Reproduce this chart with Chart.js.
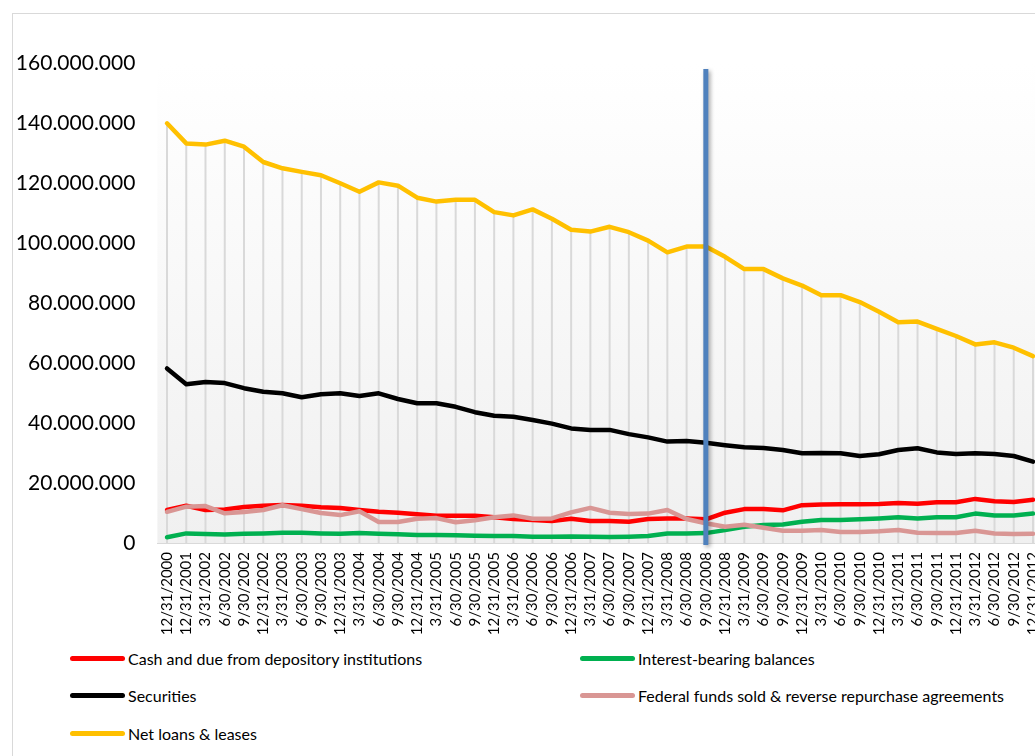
<!DOCTYPE html>
<html>
<head>
<meta charset="utf-8">
<script src="https://cdn.jsdelivr.net/npm/chart.js@4.4.1/dist/chart.umd.min.js"></script>
<style>
  html, body { margin: 0; padding: 0; background: #fff; overflow: hidden; width: 1035px; height: 756px; }
  #frame { position: absolute; left: 12px; top: 13px; width: 1100px; height: 800px; border: 1px solid #d9d9d9; box-sizing: border-box; }
  #wrap { position: absolute; left: 0; top: 0; width: 1080px; height: 645px; }
  .item { position: absolute; height: 20px; display: flex; align-items: center; font-family: Lato, sans-serif; font-size: 16px; color: #000; white-space: nowrap; }
  .swatch { width: 55px; height: 5px; border-radius: 2.5px; margin-right: 3px; }
</style>
</head>
<body>
<div id="frame"></div>
<div id="wrap"><canvas id="chart" width="1080" height="645"></canvas></div>
<div id="legend"></div>
<script>
// Quarter-end reporting dates
const quarters = [
  '12/31/2000', '12/31/2001', '3/31/2002', '6/30/2002', '9/30/2002', '12/31/2002',
  '3/31/2003', '6/30/2003', '9/30/2003', '12/31/2003', '3/31/2004', '6/30/2004',
  '9/30/2004', '12/31/2004', '3/31/2005', '6/30/2005', '9/30/2005', '12/31/2005',
  '3/31/2006', '6/30/2006', '9/30/2006', '12/31/2006', '3/31/2007', '6/30/2007',
  '9/30/2007', '12/31/2007', '3/31/2008', '6/30/2008', '9/30/2008', '12/31/2008',
  '3/31/2009', '6/30/2009', '9/30/2009', '12/31/2009', '3/31/2010', '6/30/2010',
  '9/30/2010', '12/31/2010', '3/31/2011', '6/30/2011', '9/30/2011', '12/31/2011',
  '3/31/2012', '6/30/2012', '9/30/2012', '12/31/2012'
];

// Balance sheet items (thousands of dollars)
const cashAndDue = [
  11000000, 12400000, 11000000, 11200000, 12000000, 12400000, 12700000, 12400000, 11900000, 11700000,
  11000000, 10400000, 10100000, 9600000, 9100000, 9100000, 9100000, 8600000, 8000000, 7700000,
  7300000, 8100000, 7300000, 7300000, 7100000, 8000000, 8200000, 8200000, 7900000, 10100000,
  11300000, 11300000, 10900000, 12600000, 12800000, 12900000, 12900000, 13000000, 13300000, 13100000,
  13600000, 13600000, 14700000, 13900000, 13700000, 14400000
];
const interestBearing = [
  1900000, 3200000, 3000000, 2800000, 3100000, 3200000, 3400000, 3400000, 3200000, 3100000,
  3300000, 3100000, 2900000, 2700000, 2700000, 2600000, 2400000, 2300000, 2300000, 2100000,
  2100000, 2200000, 2100000, 2000000, 2100000, 2300000, 3200000, 3200000, 3300000, 4300000,
  5400000, 6000000, 6200000, 7100000, 7700000, 7700000, 7900000, 8200000, 8600000, 8200000,
  8600000, 8600000, 9800000, 9200000, 9200000, 9800000
];
const securities = [
  58200000, 52900000, 53700000, 53300000, 51600000, 50400000, 49900000, 48600000, 49600000, 49900000,
  49000000, 49900000, 48000000, 46600000, 46600000, 45400000, 43600000, 42400000, 42100000, 41000000,
  39800000, 38200000, 37700000, 37700000, 36300000, 35200000, 33800000, 34000000, 33400000, 32600000,
  31900000, 31700000, 31000000, 29900000, 30000000, 29900000, 29000000, 29600000, 31000000, 31600000,
  30200000, 29700000, 29900000, 29700000, 29000000, 27100000
];
const fedFundsRepo = [
  10400000, 12100000, 12300000, 9900000, 10300000, 11000000, 12600000, 11300000, 10000000, 9300000,
  10600000, 7000000, 7000000, 8100000, 8300000, 6900000, 7600000, 8600000, 9200000, 8100000,
  8200000, 10200000, 11700000, 10100000, 9700000, 9800000, 11000000, 8000000, 6600000, 5400000,
  6100000, 5100000, 4100000, 4100000, 4300000, 3700000, 3700000, 3900000, 4300000, 3400000,
  3300000, 3300000, 4100000, 3200000, 3000000, 3100000
];
const netLoansLeases = [
  139900000, 133200000, 132800000, 134100000, 132100000, 127000000, 124900000, 123700000, 122600000, 119900000,
  117100000, 120200000, 119100000, 115100000, 113800000, 114400000, 114400000, 110300000, 109200000, 111200000,
  108100000, 104400000, 103800000, 105400000, 103600000, 100800000, 96900000, 98800000, 98800000, 95400000,
  91300000, 91300000, 88200000, 85800000, 82600000, 82600000, 80300000, 77100000, 73600000, 73800000,
  71400000, 69000000, 66200000, 66900000, 65100000, 62300000
];

const seriesNames = [
  'Cash and due from depository institutions',
  'Interest-bearing balances',
  'Securities',
  'Federal funds sold & reverse repurchase agreements',
  'Net loans & leases'
];
const seriesColors = ['#ff0000', '#00b050', '#000000', '#d99694', '#ffc000'];
const seriesData = [cashAndDue, interestBearing, securities, fedFundsRepo, netLoansLeases];

// Value axis range
const yMin = 0;
const yMax = 160000000;
const yStep = 20000000;

// Vertical marker
const markerQuarter = '9/30/2008';
const markerTop = 158000000;

function formatDots(v) {
  return String(Math.round(v)).replace(/\B(?=(\d{3})+(?!\d))/g, '.');
}

const plotBackground = {
  id: 'plotBackground',
  beforeDraw(chart) {
    const { ctx, chartArea: a } = chart;
    const g = ctx.createLinearGradient(0, a.top, 0, a.bottom);
    g.addColorStop(0, '#ffffff');
    g.addColorStop(1, '#f0f0f0');
    ctx.save();
    ctx.fillStyle = g;
    ctx.fillRect(a.left, a.top, a.right - a.left, a.bottom - a.top);
    ctx.restore();
  }
};

// Drop lines from the highest series down to the category axis
const dropLines = {
  id: 'dropLines',
  beforeDatasetsDraw(chart) {
    const { ctx, scales: { x, y } } = chart;
    ctx.save();
    ctx.strokeStyle = '#d9d9d9';
    ctx.lineWidth = 2;
    quarters.forEach((q, i) => {
      const top = Math.max(...seriesData.map(s => s[i]));
      const px = x.getPixelForValue(i);
      ctx.beginPath();
      ctx.moveTo(px, y.getPixelForValue(top));
      ctx.lineTo(px, y.getPixelForValue(yMin));
      ctx.stroke();
    });
    ctx.restore();
  }
};

const markerLine = {
  id: 'markerLine',
  afterDatasetsDraw(chart) {
    const { ctx, scales: { x, y } } = chart;
    const px = x.getPixelForValue(quarters.indexOf(markerQuarter));
    ctx.save();
    ctx.shadowColor = 'rgba(0,0,0,0.35)';
    ctx.shadowBlur = 4;
    ctx.shadowOffsetX = 2;
    ctx.shadowOffsetY = 2;
    ctx.strokeStyle = '#4f81bd';
    ctx.lineWidth = 5;
    ctx.beginPath();
    ctx.moveTo(px, y.getPixelForValue(markerTop));
    ctx.lineTo(px, y.getPixelForValue(yMin) + 2);
    ctx.stroke();
    ctx.restore();
  }
};

const chart = new Chart(document.getElementById('chart'), {
  type: 'line',
  data: {
    labels: quarters,
    datasets: seriesData.map((d, i) => ({
      label: seriesNames[i],
      data: d,
      borderColor: seriesColors[i],
      backgroundColor: seriesColors[i],
      borderWidth: 4.5,
      borderJoinStyle: 'round',
      borderCapStyle: 'round',
      pointRadius: 0,
      tension: 0,
      order: seriesData.length - i
    }))
  },
  options: {
    responsive: false,
    animation: false,
    layout: { padding: { top: 63, left: 0, right: 37.4, bottom: 0 } },
    plugins: { legend: { display: false }, tooltip: { enabled: false } },
    scales: {
      x: {
        offset: true,
        grid: { display: false, drawTicks: false },
        border: { display: true, color: '#d9d9d9', width: 1 },
        ticks: {
          autoSkip: false, minRotation: 90, maxRotation: 90, padding: 9,
          color: '#000', font: { family: 'Lato', size: 15 }
        },
        afterFit(s) { s.height = 102; }
      },
      y: {
        min: yMin, max: yMax,
        grid: { display: false, drawTicks: false },
        border: { display: false },
        ticks: {
          stepSize: yStep, padding: 22, color: '#000',
          font: { family: 'Lato', size: 21 },
          callback: v => formatDots(v)
        },
        afterFit(s) { s.width = 157.4; }
      }
    }
  },
  plugins: [plotBackground, dropLines, markerLine]
});

// Legend in two columns below the chart
const legendPos = [[70, 648], [580, 648], [70, 685], [580, 685], [70, 723]];
const legend = document.getElementById('legend');
chart.data.datasets.forEach((ds, i) => {
  const item = document.createElement('div');
  item.className = 'item';
  item.style.left = legendPos[i][0] + 'px';
  item.style.top = legendPos[i][1] + 'px';
  const sw = document.createElement('span');
  sw.className = 'swatch';
  sw.style.background = ds.borderColor;
  const tx = document.createElement('span');
  tx.textContent = ds.label;
  item.appendChild(sw);
  item.appendChild(tx);
  legend.appendChild(item);
});
</script>
</body>
</html>
